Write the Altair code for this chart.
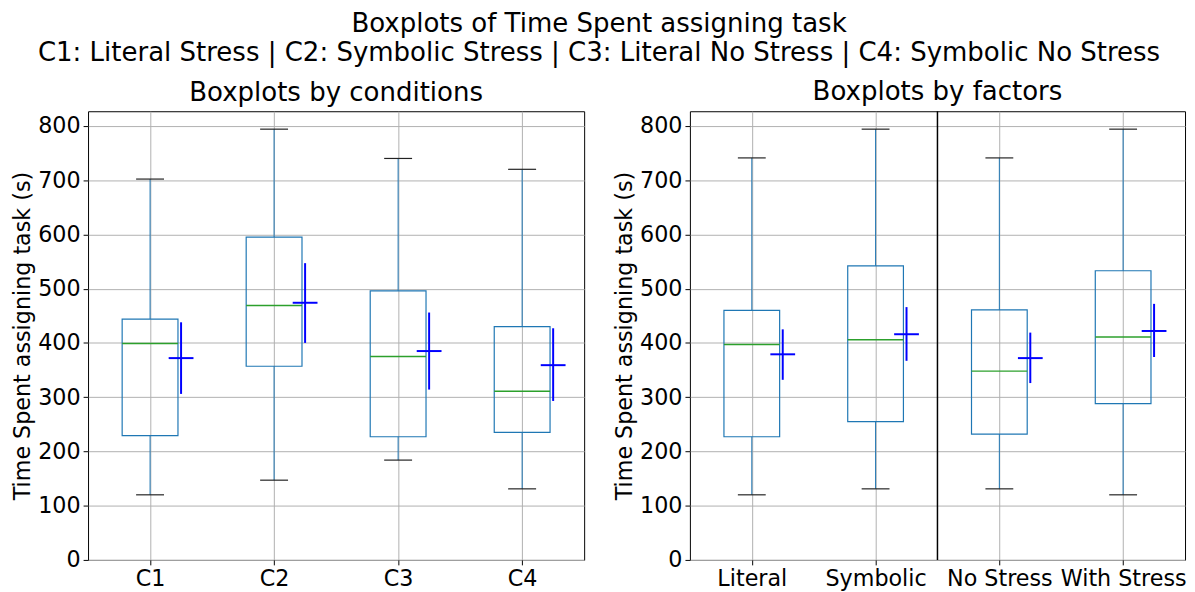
import altair as alt
import pandas as pd

# ---- data ----
cond_labels = ["C1", "C2", "C3", "C4"]
cond_low = [120, 147, 184, 131]
cond_q1 = [229, 357, 227, 235]
cond_med = [399, 469, 375, 311]
cond_q3 = [444, 595, 496, 430]
cond_high = [702, 794, 740, 720]
cond_mean = [372, 474, 385, 359]
cond_err_lo = [306, 400, 314, 293]
cond_err_hi = [438, 547, 456, 427]

fact_labels = ["Literal", "Symbolic", "No Stress", "With Stress"]
fact_low = [120, 131, 131, 120]
fact_q1 = [227, 255, 232, 288]
fact_med = [397, 406, 348, 411]
fact_q3 = [460, 542, 461, 533]
fact_high = [741, 794, 741, 794]
fact_mean = [379, 416, 372, 422]
fact_err_lo = [332, 367, 326, 374]
fact_err_hi = [425, 466, 419, 472]

y_ticks = [0, 100, 200, 300, 400, 500, 600, 700, 800]

FONT = "DejaVu Sans"
BLUE = "#1f77b4"
GREEN = "#2ca02c"
YMAX = 827
H = 454
TICK_FS = 22.5
TITLE_FS = 26.3


def panel(labels, low, q1, med, q3, high, mean, elo, ehi, title, width, divider=False):
    n = len(labels)
    df = pd.DataFrame(dict(label=labels, pos=list(range(1, n + 1)), low=low, q1=q1,
                           med=med, q3=q3, high=high, mean=mean, elo=elo, ehi=ehi))
    label_expr = " : ".join(
        [f"datum.value == {i + 1} ? '{l}'" for i, l in enumerate(labels)]) + " : ''"

    def mkx(field):
        return alt.X(f"{field}:Q",
                     scale=alt.Scale(domain=[0.5, n + 0.5], nice=False, zero=False),
                     axis=alt.Axis(values=list(range(1, n + 1)), labelExpr=label_expr,
                                   title=None, labelPadding=3))

    def mky(field):
        return alt.Y(f"{field}:Q", scale=alt.Scale(domain=[0, YMAX], nice=False),
                     axis=alt.Axis(values=y_ticks, title="Time Spent assigning task (s)",
                                   labelPadding=3))

    base = alt.Chart(df).transform_calculate(
        bl="datum.pos - 0.225", br="datum.pos + 0.225",
        cl="datum.pos - 0.1125", cr="datum.pos + 0.1125",
        mx="datum.pos + 0.25", ml="datum.pos + 0.15", mr="datum.pos + 0.35",
    )

    wl = base.mark_rule(color=BLUE, strokeWidth=1).encode(x=mkx("pos"), y=mky("low"), y2="q1")
    wh = base.mark_rule(color=BLUE, strokeWidth=1).encode(x=mkx("pos"), y=mky("q3"), y2="high")
    cl = base.mark_rule(color="#222222", strokeWidth=1.2).encode(x=mkx("cl"), x2="cr", y=mky("low"))
    ch = base.mark_rule(color="#222222", strokeWidth=1.2).encode(x=mkx("cl"), x2="cr", y=mky("high"))
    box = base.mark_rect(fillOpacity=0, stroke=BLUE, strokeWidth=1.2).encode(
        x=mkx("bl"), x2="br", y=mky("q1"), y2="q3")
    medl = base.mark_rule(color=GREEN, strokeWidth=1.5).encode(x=mkx("bl"), x2="br", y=mky("med"))
    ev = base.mark_rule(color="#0000ff", strokeWidth=2).encode(x=mkx("mx"), y=mky("elo"), y2="ehi")
    eh = base.mark_rule(color="#0000ff", strokeWidth=2).encode(x=mkx("ml"), x2="mr", y=mky("mean"))

    layers = [wl, wh, box, medl, cl, ch, ev, eh]
    if divider:
        div = alt.Chart(pd.DataFrame({"d": [(n + 1) / 2]})).mark_rule(
            color="black", strokeWidth=1.5).encode(x=mkx("d"))
        layers.append(div)

    return alt.layer(*layers).properties(
        width=width, height=H,
        title=alt.TitleParams(title, fontSize=TITLE_FS, font=FONT, fontWeight="normal",
                              color="black", offset=5),
    )


left = panel(cond_labels, cond_low, cond_q1, cond_med, cond_q3, cond_high,
             cond_mean, cond_err_lo, cond_err_hi, "Boxplots by conditions", 502)
right = panel(fact_labels, fact_low, fact_q1, fact_med, fact_q3, fact_high,
              fact_mean, fact_err_lo, fact_err_hi, "Boxplots by factors", 501, divider=True)

chart = alt.hconcat(left, right, spacing=28).properties(
    title=alt.TitleParams(
        ["Boxplots of Time Spent assigning task",
         "C1: Literal Stress | C2: Symbolic Stress | C3: Literal No Stress | C4: Symbolic No Stress"],
        fontSize=TITLE_FS, font=FONT, fontWeight="normal", color="black",
        anchor="middle", lineHeight=29, offset=13),
    padding={"left": 3, "top": 0, "right": 0, "bottom": 0},
).configure_view(
    stroke="black", strokeWidth=1
).configure_axis(
    labelFont=FONT, titleFont=FONT, labelFontSize=TICK_FS, titleFontSize=TICK_FS,
    labelColor="black", titleColor="black", titleFontWeight="normal",
    grid=True, gridColor="#b0b0b0", gridWidth=1,
    domain=False, ticks=True, tickColor="black", tickSize=5, tickWidth=1,
    titlePadding=3,
)

chart.save("out.html", embed_options={"renderer": "svg", "actions": False})
